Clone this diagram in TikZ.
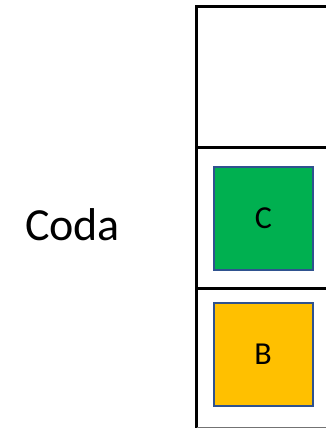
\documentclass[tikz,border=0pt]{standalone}
\usepackage{fontspec}
\setmainfont{Carlito}
\definecolor{boxgreen}{HTML}{00B050}
\definecolor{boxyellow}{HTML}{FFC000}
\definecolor{boxblue}{HTML}{2F528F}
\tikzset{
  frameline/.style={line width=3pt},
  slot/.style={draw=boxblue, line width=2pt, minimum width=99pt, minimum height=103pt, inner sep=0pt, font=\fontsize{32}{36}\selectfont}
}

\begin{document}
\begin{tikzpicture}[x=1pt,y=-1pt]
\useasboundingbox (0,0) rectangle (325,428);
\coordinate (topleft) at (196.5,6.5);
\coordinate (topright) at (327,6.5);
\coordinate (midleft) at (196.5,147);
\coordinate (midright) at (327,147);
\coordinate (lowleft) at (196.5,288);
\coordinate (lowright) at (327,288);
\coordinate (botleft) at (196.5,427.5);
\coordinate (botright) at (327,427.5);
\draw[frameline] (topright) -- (topleft) -- (botleft);
\draw[line width=2pt, black!55] (botleft) -- (botright);
\draw[frameline] (midleft) -- (midright);
\draw[frameline] (lowleft) -- (lowright);
\node[font=\fontsize{46}{50}\selectfont] at (72.5,225)(coda){Coda};
\node[slot, fill=boxgreen] at (263.5,218.5)(c){C};
\node[slot, fill=boxyellow] at (263,354.5)(b){B};
\end{tikzpicture}
\end{document}
